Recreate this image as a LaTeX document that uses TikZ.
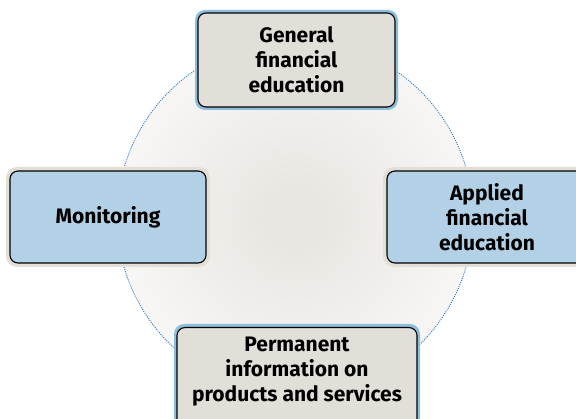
\documentclass[tikz,border=0pt]{standalone}
\usepackage{fontspec}
\setmainfont{Fira Sans}
\definecolor{grayfill}{RGB}{226,222,216}
\definecolor{bluefill}{RGB}{179,209,230}
\definecolor{bluehalo}{RGB}{140,190,222}
\definecolor{beigehalo}{RGB}{228,223,214}
\definecolor{dotblue}{RGB}{40,120,200}
\definecolor{bgcenter}{RGB}{234,231,227}
\pgfdeclareradialshading{bgshade}{\pgfpoint{0bp}{0bp}}{color(0bp)=(bgcenter); color(5bp)=(bgcenter); color(36bp)=(white); color(50bp)=(white)}
\begin{document}
\begin{tikzpicture}[x=1pt,y=-1pt,
  box/.style={draw=black, line width=1.1pt, rounded corners=8pt, align=center,
    font=\fontsize{21}{25}\selectfont\bfseries, inner sep=0pt},
  graybox/.style={box, fill=grayfill},
  bluebox/.style={box, fill=bluefill},
  ghalo/.style={fill=bluehalo, rounded corners=10pt},
  bhalo/.style={fill=beigehalo, rounded corners=11pt}]
\useasboundingbox (0,0) rectangle (576,419);
\clip (0,0) rectangle (576,419);
\fill[white] (0,0) rectangle (576,419);
\shade[shading=bgshade] (295,217.5) circle (178);
\draw[dotblue, line width=0.9pt, dash pattern=on 1pt off 1.2pt] (295,217.5) circle (178);
% halos
\fill[ghalo] (195,10) rectangle (398,110);
\fill[bhalo] (6,167) rectangle (210,267);
\fill[bhalo] (383,167) rectangle (591,267);
\fill[ghalo] (174,324) rectangle (420,433);
% boxes
\node[graybox, minimum width=197pt, minimum height=94pt] (gen) at (296.5,60) {General\\financial\\education};
\node[bluebox, minimum width=196pt, minimum height=92pt] (mon) at (108,217) {Monitoring};
\node[bluebox, minimum width=200pt, minimum height=92pt] (app) at (487,217) {Applied\\financial\\education};
\node[graybox, minimum width=240pt, minimum height=103pt, anchor=north] (perm) at (297,327) {};
\node[font=\fontsize{21}{25}\selectfont\bfseries, align=center] (permtxt) at (297,372) {Permanent\\information on\\products and services};
\end{tikzpicture}
\end{document}
